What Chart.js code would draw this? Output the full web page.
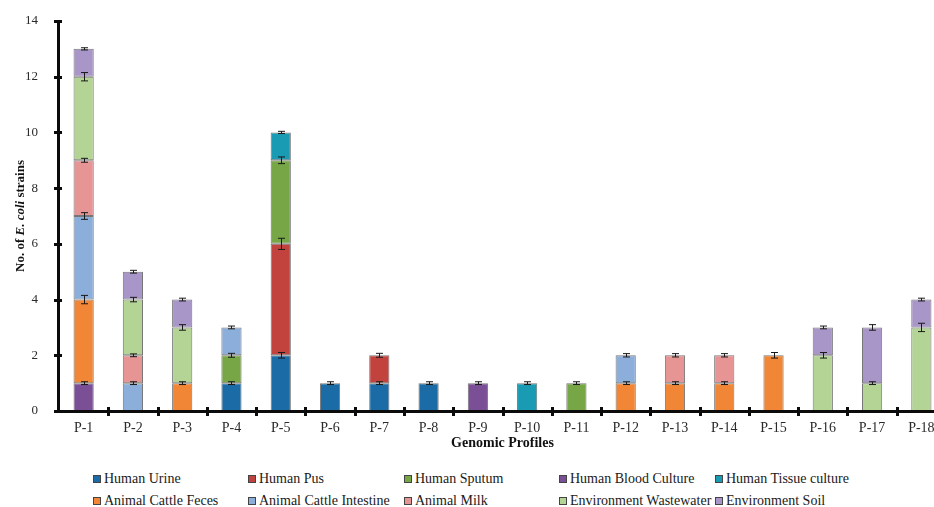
<!DOCTYPE html>
<html>
<head>
<meta charset="utf-8">
<script src="https://cdn.jsdelivr.net/npm/chart.js@4"></script>
<style>
    html, body { margin: 0; padding: 0; background: #fff; overflow: hidden; }
    #wrap { position: relative; width: 934px; height: 507px; overflow: hidden; }
    #profiles { position: absolute; left: 0; top: 0; }
    .leg { position: absolute; font: 14px "Liberation Serif", serif; color: #1a1a1a; white-space: nowrap; line-height: 14px; }
    .leg i { display: inline-block; width: 6px; height: 6px; border: 1px solid #444; margin-right: 3px; vertical-align: 0px; }
</style>
</head>
<body>
<div id="wrap">
    <canvas id="profiles" width="948" height="460"></canvas>
    <div id="legend"></div>
</div>
<script>
// =================== data =======================
const profiles = ['P-1', 'P-2', 'P-3', 'P-4', 'P-5', 'P-6', 'P-7', 'P-8', 'P-9',
    'P-10', 'P-11', 'P-12', 'P-13', 'P-14', 'P-15', 'P-16', 'P-17', 'P-18'];

const humanUrine      = [0, 0, 0, 1, 2, 1, 1, 1, 0, 0, 0, 0, 0, 0, 0, 0, 0, 0];
const humanPus        = [0, 0, 0, 0, 4, 0, 1, 0, 0, 0, 0, 0, 0, 0, 0, 0, 0, 0];
const humanSputum     = [0, 0, 0, 1, 3, 0, 0, 0, 0, 0, 1, 0, 0, 0, 0, 0, 0, 0];
const humanBlood      = [1, 0, 0, 0, 0, 0, 0, 0, 1, 0, 0, 0, 0, 0, 0, 0, 0, 0];
const humanTissue     = [0, 0, 0, 0, 1, 0, 0, 0, 0, 1, 0, 0, 0, 0, 0, 0, 0, 0];
const cattleFeces     = [3, 0, 1, 0, 0, 0, 0, 0, 0, 0, 0, 1, 1, 1, 2, 0, 0, 0];
const cattleIntestine = [3, 1, 0, 1, 0, 0, 0, 0, 0, 0, 0, 1, 0, 0, 0, 0, 0, 0];
const animalMilk      = [2, 1, 0, 0, 0, 0, 0, 0, 0, 0, 0, 0, 1, 1, 0, 0, 0, 0];
const envWastewater   = [3, 2, 2, 0, 0, 0, 0, 0, 0, 0, 0, 0, 0, 0, 0, 2, 1, 3];
const envSoil         = [1, 1, 1, 0, 0, 0, 0, 0, 0, 0, 0, 0, 0, 0, 0, 1, 2, 1];

// standard deviation shown at the top of each segment
const humanUrineErr      = [0, 0, 0, 0.05, 0.1, 0.05, 0.05, 0.05, 0, 0, 0, 0, 0, 0, 0, 0, 0, 0];
const humanPusErr        = [0, 0, 0, 0, 0.2, 0, 0.07, 0, 0, 0, 0, 0, 0, 0, 0, 0, 0, 0];
const humanSputumErr     = [0, 0, 0, 0.07, 0.12, 0, 0, 0, 0, 0, 0.05, 0, 0, 0, 0, 0, 0, 0];
const humanBloodErr      = [0.05, 0, 0, 0, 0, 0, 0, 0, 0.05, 0, 0, 0, 0, 0, 0, 0, 0, 0];
const humanTissueErr     = [0, 0, 0, 0, 0.04, 0, 0, 0, 0, 0.05, 0, 0, 0, 0, 0, 0, 0, 0];
const cattleFecesErr     = [0.15, 0, 0.05, 0, 0, 0, 0, 0, 0, 0, 0, 0.05, 0.05, 0.05, 0.1, 0, 0, 0];
const cattleIntestineErr = [0.12, 0.05, 0, 0.05, 0, 0, 0, 0, 0, 0, 0, 0.06, 0, 0, 0, 0, 0, 0];
const animalMilkErr      = [0.07, 0.05, 0, 0, 0, 0, 0, 0, 0, 0, 0, 0, 0.06, 0.06, 0, 0, 0, 0];
const envWastewaterErr   = [0.15, 0.08, 0.1, 0, 0, 0, 0, 0, 0, 0, 0, 0, 0, 0, 0, 0.1, 0.05, 0.15];
const envSoilErr         = [0.04, 0.05, 0.05, 0, 0, 0, 0, 0, 0, 0, 0, 0, 0, 0, 0, 0.05, 0.1, 0.05];

const yTicks = [0, 2, 4, 6, 8, 10, 12, 14];

const sources = [
    { label: 'Human Urine',             data: humanUrine,      err: humanUrineErr,      color: '#1B6BA6' },
    { label: 'Human Pus',               data: humanPus,        err: humanPusErr,        color: '#C2433E' },
    { label: 'Human Sputum',            data: humanSputum,     err: humanSputumErr,     color: '#77A646' },
    { label: 'Human Blood Culture',     data: humanBlood,      err: humanBloodErr,      color: '#7A4F96' },
    { label: 'Human Tissue culture',    data: humanTissue,     err: humanTissueErr,     color: '#1A9BB4' },
    { label: 'Animal Cattle Feces',     data: cattleFeces,     err: cattleFecesErr,     color: '#F08636' },
    { label: 'Animal Cattle Intestine', data: cattleIntestine, err: cattleIntestineErr, color: '#8CAEDB' },
    { label: 'Animal Milk',             data: animalMilk,      err: animalMilkErr,      color: '#E69594' },
    { label: 'Environment Wastewater',  data: envWastewater,   err: envWastewaterErr,   color: '#B3D495' },
    { label: 'Environment Soil',        data: envSoil,         err: envSoilErr,         color: '#A996C8' }
];
// =================== END data ===================

const serif = '"Liberation Serif", "Times New Roman", serif';

// I-shaped error bars on top of every stacked segment
const errorBars = {
    id: 'errorBars',
    afterDatasetsDraw(chart) {
        const ctx = chart.ctx;
        const y = chart.scales.y;
        const running = profiles.map(() => 0);
        ctx.save();
        ctx.strokeStyle = '#1a1a1a';
        ctx.lineWidth = 1;
        sources.forEach((s, i) => {
            const meta = chart.getDatasetMeta(i);
            s.data.forEach((v, j) => {
                running[j] += v;
                if (!v || !s.err[j]) return;
                const x = Math.round(meta.data[j].x) + 0.5;
                const top = y.getPixelForValue(running[j] + s.err[j]);
                const bot = y.getPixelForValue(running[j] - s.err[j]);
                ctx.beginPath();
                ctx.moveTo(x, top); ctx.lineTo(x, bot);
                ctx.moveTo(x - 3.5, top); ctx.lineTo(x + 3.5, top);
                ctx.moveTo(x - 3.5, bot); ctx.lineTo(x + 3.5, bot);
                ctx.stroke();
            });
        });
        ctx.restore();
    }
};

// thick dark axes with tick marks crossing the lines
const axisLines = {
    id: 'axisLines',
    afterDraw(chart) {
        const ctx = chart.ctx;
        const x = chart.scales.x;
        const y = chart.scales.y;
        const left = Math.round(x.left);
        const top = Math.round(y.getPixelForValue(14));
        const bottom = Math.round(y.getPixelForValue(0));
        ctx.save();
        ctx.fillStyle = '#0b0b0b';
        ctx.fillRect(left - 2, top, 3, bottom - top + 1);
        ctx.fillRect(left - 2, bottom - 1, chart.width - left + 2, 3);

        yTicks.forEach(v => {
            const py = Math.round(y.getPixelForValue(v));
            ctx.fillRect(left - 5, py - 1, 8, 3);
        });
        const step = x.getPixelForValue(1) - x.getPixelForValue(0);
        profiles.forEach((p, i) => {
            const px = Math.round(x.getPixelForValue(i) + step / 2);
            ctx.fillRect(px - 1, bottom - 4, 3, 9);
        });
        ctx.restore();
    }
};

// axis titles, the y one has the species name in italics
const axisTitles = {
    id: 'axisTitles',
    afterDraw(chart) {
        const ctx = chart.ctx;
        const area = chart.chartArea;
        ctx.save();
        ctx.fillStyle = '#111';
        ctx.textBaseline = 'middle';

        ctx.textAlign = 'center';
        ctx.font = 'bold 14px ' + serif;
        ctx.fillText('Genomic Profiles', (area.left + area.right) / 2, 443);

        const parts = [
            ['No. of ', 'bold 13px ' + serif],
            ['E. coli', 'italic bold 13px ' + serif],
            [' strains', 'bold 13px ' + serif]
        ];
        let total = 0;
        parts.forEach(p => { ctx.font = p[1]; total += ctx.measureText(p[0]).width; });
        ctx.translate(21, (area.top + area.bottom) / 2);
        ctx.rotate(-Math.PI / 2);
        ctx.textAlign = 'left';
        let pos = -total / 2;
        parts.forEach(p => {
            ctx.font = p[1];
            ctx.fillText(p[0], pos, 0);
            pos += ctx.measureText(p[0]).width;
        });
        ctx.restore();
    }
};

function profileChart() {
    const ctx = document.getElementById('profiles');
    const myChart = new Chart(ctx, {
        type: 'bar',
        data: {
            labels: profiles,
            datasets: sources.map(s => ({
                label: s.label,
                data: s.data,
                backgroundColor: s.color,
                borderColor: '#777',
                borderWidth: 1,
                borderSkipped: false,
                categoryPercentage: 1,
                barPercentage: 0.41
            }))
        },
        options: {
            responsive: false,
            animation: false,
            devicePixelRatio: 1,
            layout: { padding: { top: 21, right: 2, left: 0, bottom: 0 } },
            plugins: {
                legend: { display: false },
                tooltip: { enabled: false },
                title: { display: false }
            },
            scales: {
                x: {
                    stacked: true,
                    border: { display: false },
                    grid: { display: false },
                    ticks: {
                        padding: 1,
                        color: '#2a2a2a',
                        font: { family: serif, size: 14 },
                        maxRotation: 0,
                        autoSkip: false
                    },
                    afterFit(scale) { scale.height = 49; }
                },
                y: {
                    stacked: true,
                    min: 0,
                    max: 14,
                    border: { display: false },
                    grid: { display: false },
                    afterBuildTicks(scale) {
                        scale.ticks = yTicks.map(v => ({ value: v }));
                    },
                    ticks: {
                        padding: 13,
                        color: '#2a2a2a',
                        font: { family: serif, size: 13 }
                    },
                    afterFit(scale) { scale.width = 59; }
                }
            }
        },
        plugins: [errorBars, axisLines, axisTitles]
    });
    return myChart;
}

// legend laid out in five fixed columns, two rows
function buildLegend() {
    const cols = [93, 248, 404, 559, 715];
    const rows = [479, 501];
    const box = document.getElementById('legend');
    sources.forEach((s, i) => {
        const el = document.createElement('div');
        el.className = 'leg';
        el.style.left = cols[i % 5] + 'px';
        el.style.top = (rows[Math.floor(i / 5)] - 7) + 'px';
        el.innerHTML = '<i style="background:' + s.color + '"></i>' + s.label;
        box.appendChild(el);
    });
}

profileChart();
buildLegend();
</script>
</body>
</html>
